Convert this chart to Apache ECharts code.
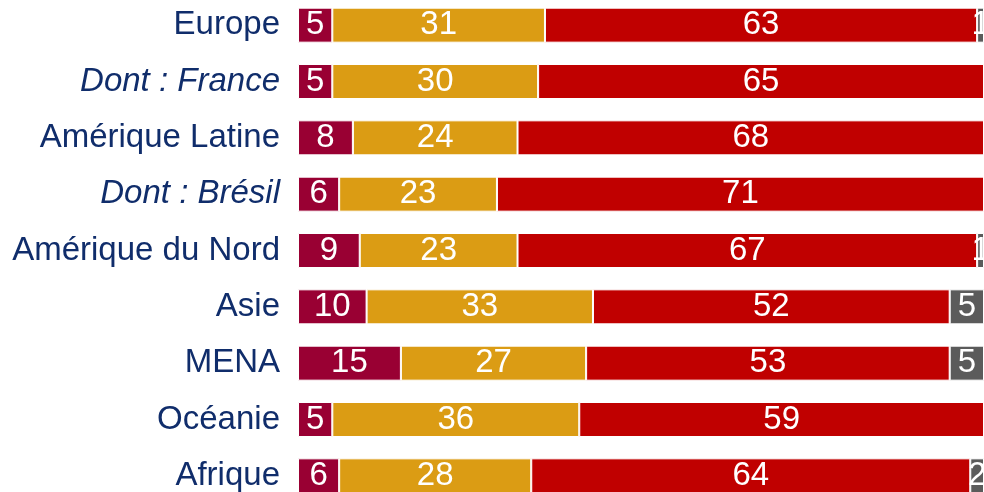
<!DOCTYPE html>
<html>
<head>
<meta charset="utf-8">
<script src="https://cdn.jsdelivr.net/npm/echarts@6/dist/echarts.min.js"></script>
<style>
html,body{margin:0;padding:0;background:#fff;}
#chart{width:984px;height:492px;}
</style>
</head>
<body>
<div id="chart"></div>
<script>
// regions, top to bottom
var regions = ['Europe', 'Dont : France', 'Amérique Latine', 'Dont : Brésil', 'Amérique du Nord', 'Asie', 'MENA', 'Océanie', 'Afrique'];
var italicRows = ['Dont : France', 'Dont : Brésil'];

// shares in %
var serie1 = [5, 5, 8, 6, 9, 10, 15, 5, 6];
var serie2 = [31, 30, 24, 23, 23, 33, 27, 36, 28];
var serie3 = [63, 65, 68, 71, 67, 52, 53, 59, 64];
var serie4 = [1, 0, 0, 0, 1, 5, 5, 0, 2];

var colors = ['#990033', '#DB9C14', '#C00000', '#5B5B5B'];
var font = '"Liberation Sans", Arial, sans-serif';

function makeSerie(name, data, color) {
	return {
		name: name,
		type: 'bar',
		stack: 'total',
		barWidth: 35,
		data: data,
		itemStyle: {color: color, borderColor: '#fff', borderWidth: 1},
		label: {
			show: true,
			position: 'inside',
			color: '#fff',
			fontSize: 33,
			fontFamily: font,
			formatter: function (p) { return p.value ? p.value : ''; }
		}
	};
}

var options = {};
options.animation = false;
options.grid = {left: 298, right: 0, top: -3, height: 507, containLabel: false, outerBoundsMode: 'none'};
options.xAxis = {
	type: 'value',
	min: 0,
	max: 100,
	show: false
};
options.yAxis = {
	type: 'category',
	inverse: true,
	data: regions,
	axisLine: {show: false},
	axisTick: {show: false},
	axisLabel: {
		margin: 18,
		color: '#102D6B',
		fontSize: 33,
		fontFamily: font,
		formatter: function (v) {
			return italicRows.indexOf(v) >= 0 ? '{it|' + v + '}' : v;
		},
		rich: {
			it: {fontStyle: 'italic', color: '#102D6B', fontSize: 33, fontFamily: font}
		}
	}
};
options.series = [
	makeSerie('s1', serie1, colors[0]),
	makeSerie('s2', serie2, colors[1]),
	makeSerie('s3', serie3, colors[2]),
	makeSerie('s4', serie4, colors[3])
];

var myChart = echarts.init(document.getElementById('chart'));
myChart.setOption(options);
</script>
</body>
</html>
